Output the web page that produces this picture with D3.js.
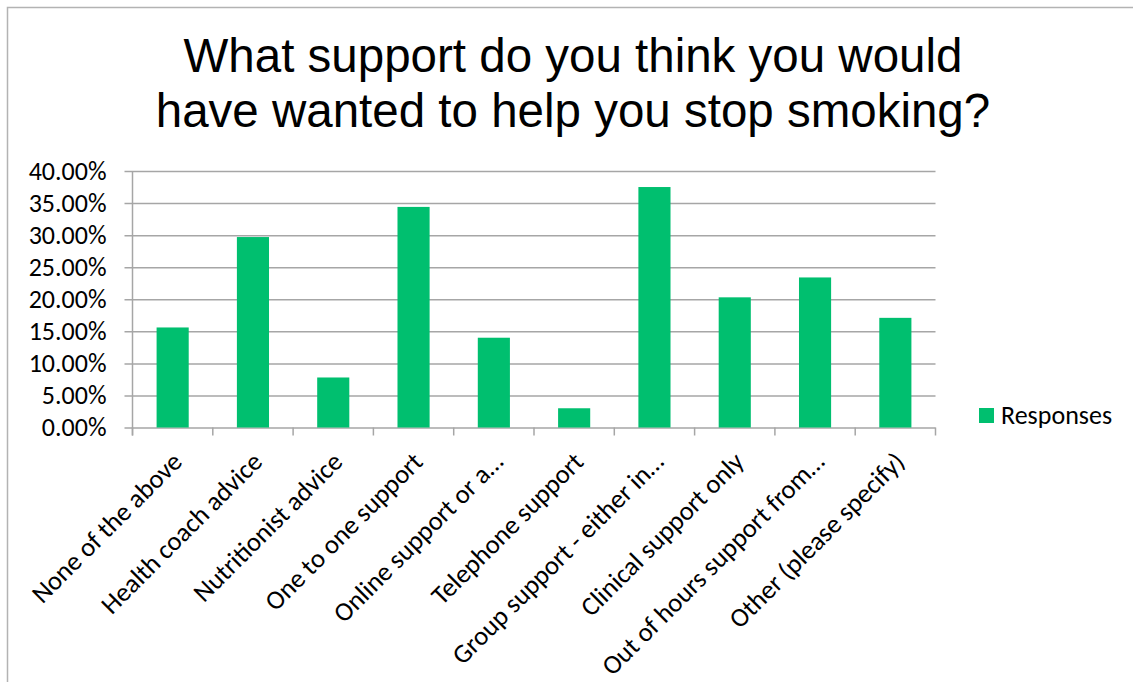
<!DOCTYPE html>
<html>
<head>
<meta charset="utf-8">
<script src="https://cdn.jsdelivr.net/npm/d3@7"></script>
<style>
  html, body { margin: 0; padding: 0; background: #ffffff; }
  svg { display: block; }
</style>
</head>
<body>
<svg id="chart" width="1133" height="682"></svg>
<script>
// Survey answers: share of respondents choosing each kind of support
const categories = [
  "None of the above",
  "Health coach advice",
  "Nutritionist advice",
  "One to one support",
  "Online support or a\u2026",
  "Telephone support",
  "Group support - either in\u2026",
  "Clinical support only",
  "Out of hours support from\u2026",
  "Other (please specify)"
];
const responses = [15.6, 29.7, 7.8, 34.4, 14.0, 3.0, 37.5, 20.3, 23.4, 17.1];
const yTicks = [0, 5, 10, 15, 20, 25, 30, 35, 40];
const seriesName = "Responses";
const titleLines = ["What support do you think you would", "have wanted to help you stop smoking?"];

const W = 1133, H = 682;
const plot = { left: 132.5, right: 935.5, top: 171, bottom: 427.5 };
const barColor = "#00BF6F";
const gridColor = "#a6a6a6";
const labelFont = "Calibri, Carlito, 'Open Sans', sans-serif";
const labelSize = 26.5;

const svg = d3.select("#chart");

// chart frame
svg.append("rect")
  .attr("x", 7.5).attr("y", 7.5)
  .attr("width", W + 20).attr("height", H + 20)
  .attr("fill", "#fff").attr("stroke", "#b3b3b3").attr("stroke-width", 1.5);

// title
svg.append("g").selectAll("text").data(titleLines).join("text")
  .attr("x", 573).attr("y", (d, i) => 72 + i * 55)
  .attr("text-anchor", "middle")
  .attr("font-family", "Arial, 'Liberation Sans', sans-serif")
  .attr("font-size", 47.5)
  .attr("fill", "#000")
  .text(d => d);

const x = d3.scaleBand().domain(categories)
  .range([plot.left, plot.right]).paddingInner(0.6).paddingOuter(0.3);
const y = d3.scaleLinear().domain([0, 40]).range([plot.bottom, plot.top]);

// horizontal gridlines + y axis
const yAxis = d3.axisLeft(y).tickValues(yTicks)
  .tickSize(-(plot.right - plot.left))
  .tickPadding(0)
  .tickFormat(d => d.toFixed(2) + "%");
const gy = svg.append("g").attr("transform", `translate(${plot.left},0)`).call(yAxis);
gy.select(".domain").remove();
gy.selectAll(".tick line").attr("stroke", gridColor).attr("stroke-width", 1.5).attr("x1", -8);
gy.selectAll(".tick text")
  .attr("x", -26)
  .attr("font-family", labelFont).attr("font-size", 26).attr("fill", "#000");

// vertical axis line
svg.append("line")
  .attr("x1", plot.left).attr("x2", plot.left)
  .attr("y1", plot.top).attr("y2", plot.bottom + 8)
  .attr("stroke", gridColor).attr("stroke-width", 1.5);

// bars
svg.append("g").selectAll("rect").data(responses).join("rect")
  .attr("x", (d, i) => x(categories[i]))
  .attr("y", d => y(d))
  .attr("width", x.bandwidth())
  .attr("height", d => y(0) - y(d))
  .attr("fill", barColor);

// category boundary ticks on the x axis
const boundaries = d3.range(categories.length + 1).map(i => plot.left + i * (plot.right - plot.left) / categories.length);
svg.append("g").selectAll("line").data(boundaries).join("line")
  .attr("x1", d => d).attr("x2", d => d)
  .attr("y1", plot.bottom).attr("y2", plot.bottom + 8)
  .attr("stroke", gridColor).attr("stroke-width", 1.5);

// rotated category labels
svg.append("g").selectAll("text").data(categories).join("text")
  .attr("transform", d => `translate(${x(d) + x.bandwidth() / 2 - 4},${plot.bottom + 21}) rotate(-45)`)
  .attr("text-anchor", "end")
  .attr("dy", 21)
  .attr("font-family", labelFont).attr("font-size", labelSize).attr("fill", "#000")
  .text(d => d);

// legend
const legend = svg.append("g").attr("transform", "translate(979,408)");
legend.append("rect").attr("width", 15).attr("height", 15).attr("fill", barColor);
legend.append("text")
  .attr("x", 22).attr("y", 15.5)
  .attr("font-family", labelFont).attr("font-size", 26).attr("fill", "#000")
  .text(seriesName);
</script>
</body>
</html>
